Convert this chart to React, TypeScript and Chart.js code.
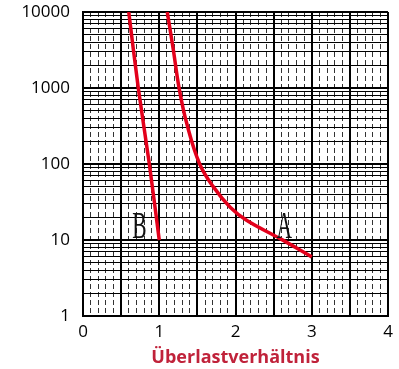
import React, { useEffect, useRef } from "react";
import { Chart, registerables } from "chart.js";

Chart.register(...registerables);

const curveAX = [1.105, 1.185, 1.26, 1.36, 1.53, 1.71, 1.93, 2.15, 2.58, 3.0];
const curveAY = [10000, 3160, 1000, 343, 100, 50, 27, 18, 10.5, 6];
const curveBX = [0.6, 0.725, 0.87, 1.0];
const curveBY = [10000, 1000, 100, 10];

const curveLabels = ["B", "A"];
const curveLabelX = [0.74, 2.64];
const curveLabelY = [10.6, 10.6];

const xMajorTicks = [0, 0.5, 1, 1.5, 2, 2.5, 3, 3.5, 4];
const xMinorTicks = [
  0.1, 0.2, 0.3, 0.4, 0.6, 0.7, 0.8, 0.9, 1.1, 1.2, 1.3, 1.4, 1.6, 1.7, 1.8, 1.9,
  2.1, 2.2, 2.3, 2.4, 2.6, 2.7, 2.8, 2.9, 3.1, 3.2, 3.3, 3.4, 3.6, 3.7, 3.8, 3.9,
];
const yTicks = [
  1, 2, 3, 4, 5, 6, 7, 8, 9,
  10, 20, 30, 40, 50, 60, 70, 80, 90,
  100, 200, 300, 400, 500, 600, 700, 800, 900,
  1000, 2000, 3000, 4000, 5000, 6000, 7000, 8000, 9000,
  10000,
];
const yLabelTicks = [1, 10, 100, 1000, 10000];
const xLabelTicks = [0, 1, 2, 3, 4];
const xTitle = "Überlastverhältnis";

const RED = "#e3001b";

const curveLabelPlugin = {
  id: "curveLabels",
  afterDatasetsDraw(chart: any) {
    const ctx = chart.ctx;
    const xs = chart.scales.x;
    const ys = chart.scales.y;
    ctx.save();
    ctx.fillStyle = "#111";
    ctx.font = "37px 'Liberation Serif', 'DejaVu Serif', serif";
    ctx.textAlign = "center";
    ctx.textBaseline = "alphabetic";
    curveLabels.forEach((t, i) => {
      const px = xs.getPixelForValue(curveLabelX[i]);
      const py = ys.getPixelForValue(curveLabelY[i]);
      ctx.save();
      ctx.translate(px, py);
      ctx.scale(0.58, 1);
      ctx.fillText(t, 0, 0);
      ctx.restore();
    });
    ctx.restore();
  },
};

export default function App() {
  const ref = useRef<HTMLCanvasElement>(null);
  useEffect(() => {
    if (!ref.current) return;
    const chart = new Chart(ref.current, {
      type: "line",
      data: {
        datasets: [
          {
            label: "A",
            data: curveAX.map((x, i) => ({ x, y: curveAY[i] })),
            borderColor: RED,
            borderWidth: 3.5,
            pointRadius: 0,
            tension: 0.4,
            xAxisID: "x",
            yAxisID: "y",
          },
          {
            label: "B",
            data: curveBX.map((x, i) => ({ x, y: curveBY[i] })),
            borderColor: RED,
            borderWidth: 3.5,
            pointRadius: 0,
            tension: 0.3,
            xAxisID: "x",
            yAxisID: "y",
          },
        ],
      },
      options: {
        responsive: false,
        animation: false,
        layout: { padding: { top: 12, right: 11, left: 0, bottom: 0 } },
        plugins: { legend: { display: false }, tooltip: { enabled: false } },
        scales: {
          x: {
            type: "linear",
            position: "bottom",
            min: 0,
            max: 4,
            afterBuildTicks: (s: any) => {
              s.ticks = xMajorTicks.map((v) => ({ value: v }));
            },
            afterFit: (s: any) => {
              s.height = 53;
              s.paddingLeft = 0;
              s.paddingRight = 0;
            },
            ticks: {
              autoSkip: false,
              maxRotation: 0,
              padding: 6,
              color: "#000",
              font: { family: "'Open Sans', sans-serif", size: 17 },
              callback: (v: any) => (xLabelTicks.includes(Number(v)) ? String(v) : ""),
            },
            grid: { color: "#000", lineWidth: 2, drawTicks: false },
            border: { display: true, color: "#000", width: 2 },
            title: {
              display: true,
              text: xTitle,
              color: "#c0223a",
              font: { family: "'Open Sans', sans-serif", size: 18, weight: "bold" },
              padding: { top: 0, bottom: 0 },
            },
          },
          x2: {
            type: "linear",
            position: "bottom",
            min: 0,
            max: 4,
            afterBuildTicks: (s: any) => {
              s.ticks = xMinorTicks.map((v) => ({ value: v }));
            },
            afterFit: (s: any) => {
              s.height = 0;
              s.paddingLeft = 0;
              s.paddingRight = 0;
            },
            ticks: { display: false, autoSkip: false },
            grid: { color: "#333", lineWidth: 1, drawTicks: false },
            border: { display: false, dash: [5, 3] },
          },
          y: {
            type: "logarithmic",
            min: 1,
            max: 10000,
            afterBuildTicks: (s: any) => {
              s.ticks = yTicks.map((v) => ({ value: v, major: yLabelTicks.includes(v) }));
            },
            afterFit: (s: any) => {
              s.width = 83;
              s.paddingTop = 0;
              s.paddingBottom = 0;
            },
            ticks: {
              autoSkip: false,
              padding: 13,
              color: "#000",
              font: { family: "'Open Sans', sans-serif", size: 17 },
              callback: (v: any) => (yLabelTicks.includes(Number(v)) ? String(v) : ""),
            },
            grid: {
              color: "#000",
              drawTicks: false,
              lineWidth: (c: any) => (c.tick && yLabelTicks.includes(c.tick.value) ? 2 : 1),
            },
            border: { display: true, color: "#000", width: 2 },
          },
        },
      },
      plugins: [curveLabelPlugin],
    } as any);
    return () => chart.destroy();
  }, []);
  return (
    <div style={{ position: "fixed", left: 0, top: 0, width: 399, height: 369, background: "#fff" }}>
      <canvas ref={ref} width={399} height={369} style={{ width: 399, height: 369 }} />
    </div>
  );
}
